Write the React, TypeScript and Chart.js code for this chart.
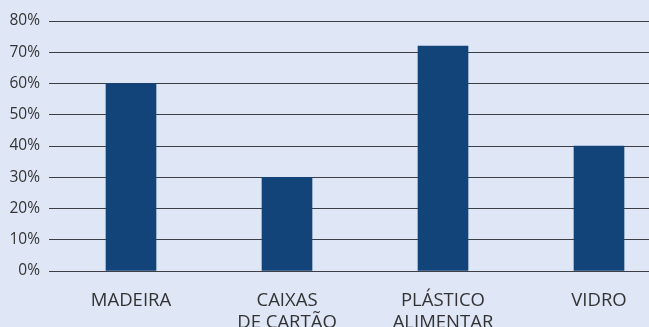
import React, { useEffect, useRef } from "react";
import { Chart, registerables } from "chart.js";

Chart.register(...registerables);

const categories: (string | string[])[] = [
  "MADEIRA",
  ["CAIXAS", "DE CARTÃO"],
  ["PLÁSTICO", "ALIMENTAR"],
  "VIDRO",
];
const values: number[] = [60, 30, 72, 40];
const yTicks: number[] = [0, 10, 20, 30, 40, 50, 60, 70, 80];

const BG = "#dfe7f7";
const BAR = "#124379";
const TEXT = "#333333";

export default function App() {
  const ref = useRef<HTMLCanvasElement>(null);
  useEffect(() => {
    if (!ref.current) return;
    const chart = new Chart(ref.current, {
      type: "bar",
      data: {
        labels: categories,
        datasets: [
          {
            data: values,
            backgroundColor: BAR,
            borderWidth: 0,
            barThickness: 50,
          },
        ],
      },
      options: {
        responsive: false,
        animation: false,
        maintainAspectRatio: false,
        layout: { padding: { top: 21, left: 0, right: 0, bottom: 0 } },
        plugins: { legend: { display: false }, tooltip: { enabled: false } },
        scales: {
          x: {
            grid: { display: false },
            border: { display: false },
            ticks: {
              color: TEXT,
              font: { family: "'Open Sans'", size: 18.5, lineHeight: 1.22 },
              padding: 10,
              maxRotation: 0,
              autoSkip: false,
            },
            afterFit: (s: any) => {
              s.height = 56;
            },
          },
          y: {
            min: 0,
            max: 80,
            afterBuildTicks: (s: any) => {
              s.ticks = yTicks.map((v) => ({ value: v }));
            },
            grid: {
              color: "#3c3f45",
              lineWidth: 1,
              tickLength: 4,
              drawTicks: true,
            },
            border: { display: false },
            ticks: {
              color: TEXT,
              font: { family: "'Open Sans'", size: 15.5 },
              padding: 9,
              callback: (v: any) => v + "%",
            },
            afterFit: (s: any) => {
              s.width = 53;
            },
          },
        },
      },
    });
    return () => chart.destroy();
  }, []);
  return (
    <div
      style={{
        position: "fixed",
        left: 0,
        top: 0,
        width: 649,
        height: 327,
        overflow: "hidden",
        background: BG,
      }}
    >
      <canvas ref={ref} width={677} height={327} style={{ display: "block" }} />
    </div>
  );
}
